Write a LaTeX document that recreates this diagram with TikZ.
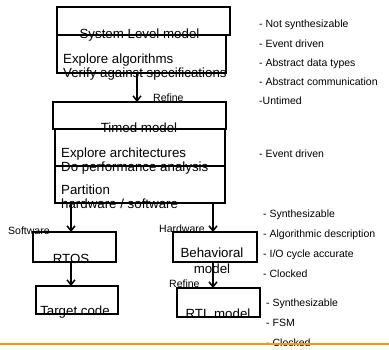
\documentclass[tikz,border=0pt]{standalone}
\usepackage{fontspec}
\setmainfont{Liberation Sans}
\usetikzlibrary{arrows.meta,calc}
\definecolor{rule}{HTML}{FF9900}
\begin{document}
\begin{tikzpicture}[x=1pt,y=-1pt,
  boxline/.style={draw=black,line width=1.7pt},
  conn/.style={draw=black,line width=1.7pt,-{Straight Barb[length=5pt,width=8pt,line width=1.5pt]}},
  body/.style={inner sep=0pt,font=\fontsize{13.3}{14}\selectfont},
  lbl/.style={inner sep=0pt,font=\fontsize{10.5}{12}\selectfont},
  note/.style={inner sep=0pt,anchor=base west,font=\fontsize{10.5}{12}\selectfont}]
\useasboundingbox (0,0) rectangle (389,349);
% boxes
\path[boxline] (57,7) rectangle (230,35);
\node[inner sep=0pt,minimum width=173pt,minimum height=28pt,anchor=north west] (sysT) at (57,7) {};
\path[boxline] (57,35) rectangle (226,73);
\node[inner sep=0pt,minimum width=169pt,minimum height=38pt,anchor=north west] (sysB) at (57,35) {};
\path[boxline] (53,102) rectangle (226,129);
\node[inner sep=0pt,minimum width=173pt,minimum height=27pt,anchor=north west] (timT) at (53,102) {};
\path[boxline] (55,129) rectangle (225,166);
\node[inner sep=0pt,minimum width=170pt,minimum height=37pt,anchor=north west] (timM) at (55,129) {};
\path[boxline] (55,166) rectangle (225,203);
\node[inner sep=0pt,minimum width=170pt,minimum height=37pt,anchor=north west] (timB) at (55,166) {};
\path[boxline] (33,232) rectangle (116,262);
\node[inner sep=0pt,minimum width=83pt,minimum height=30pt,anchor=north west] (rtos) at (33,232) {};
\path[boxline] (36,286) rectangle (118,314);
\node[inner sep=0pt,minimum width=82pt,minimum height=28pt,anchor=north west] (target) at (36,286) {};
\path[boxline] (173,232) rectangle (257,262);
\node[inner sep=0pt,minimum width=84pt,minimum height=30pt,anchor=north west] (behav) at (173,232) {};
\path[boxline] (177,288) rectangle (260,317);
\node[inner sep=0pt,minimum width=83pt,minimum height=29pt,anchor=north west] (rtl) at (177,288) {};
% connector columns
\coordinate (c1) at (137,0);
\coordinate (c2) at (71,0);
\coordinate (c3) at (213,0);
\draw[conn] (sysB.south -| c1) -- (timT.north -| c1);
\draw[conn] (timB.south -| c2) -- (rtos.north -| c2);
\draw[conn] (timB.south -| c3) -- (behav.north -| c3);
\draw[conn] (rtos.south -| c2) -- (target.north -| c2);
\draw[conn] (behav.south -| c3) -- (rtl.north -| c3);
% box texts
\node[body,anchor=base] (t1) at (139.5,38) {System Level model};
\node[body,anchor=base west] (t2) at (63,63) {Explore algorithms};
\node[body,anchor=base west] (t3) at (63,77) {Verify against specifications};
\node[lbl,anchor=base west] (r1) at (153,101) {Refine};
\node[body,anchor=base] (t4) at (139,132) {Timed model};
\node[body,anchor=base west] (t5) at (61,157) {Explore architectures};
\node[body,anchor=base west] (t6) at (61,171) {Do performance analysis};
\node[body,anchor=base west] (t7) at (61,194) {Partition};
\node[body,anchor=base west] (t8) at (61,208) {hardware / software};
\node[lbl,anchor=base west] (sw) at (8,234) {Software};
\node[lbl,anchor=base west] (hw) at (159,232) {Hardware};
\node[body,anchor=base] (t9) at (71,263) {RTOS};
\node[body,anchor=base] (t10) at (75,315) {Target code};
\node[body,anchor=base] (t11) at (212,257) {Behavioral};
\node[body,anchor=base] (t12) at (212,273) {model};
\node[lbl,anchor=base west] (r2) at (169,287) {Refine};
\node[body,anchor=base] (t13) at (218,318) {RTL model};
% notes
\node[note] (n1) at (259,27) {- Not synthesizable};
\node[note] (n2) at (259,47) {- Event driven};
\node[note] (n3) at (259,66) {- Abstract data types};
\node[note] (n4) at (259,85) {- Abstract communication};
\node[note] (n5) at (259,104) {-Untimed};
\node[note] (n6) at (259,157) {- Event driven};
\node[note] (n7) at (263,217) {- Synthesizable};
\node[note] (n8) at (263,237) {- Algorithmic description};
\node[note] (n9) at (263,257) {- I/O cycle accurate};
\node[note] (n10) at (263,277) {- Clocked};
\node[note] (n11) at (266,306) {- Synthesizable};
\node[note] (n12) at (266,326) {- FSM};
\node[note] (n13) at (266,346) {- Clocked};
% orange rule
\draw[rule,line width=2pt] (0,343.5) -- (389,343.5);
\end{tikzpicture}
\end{document}
